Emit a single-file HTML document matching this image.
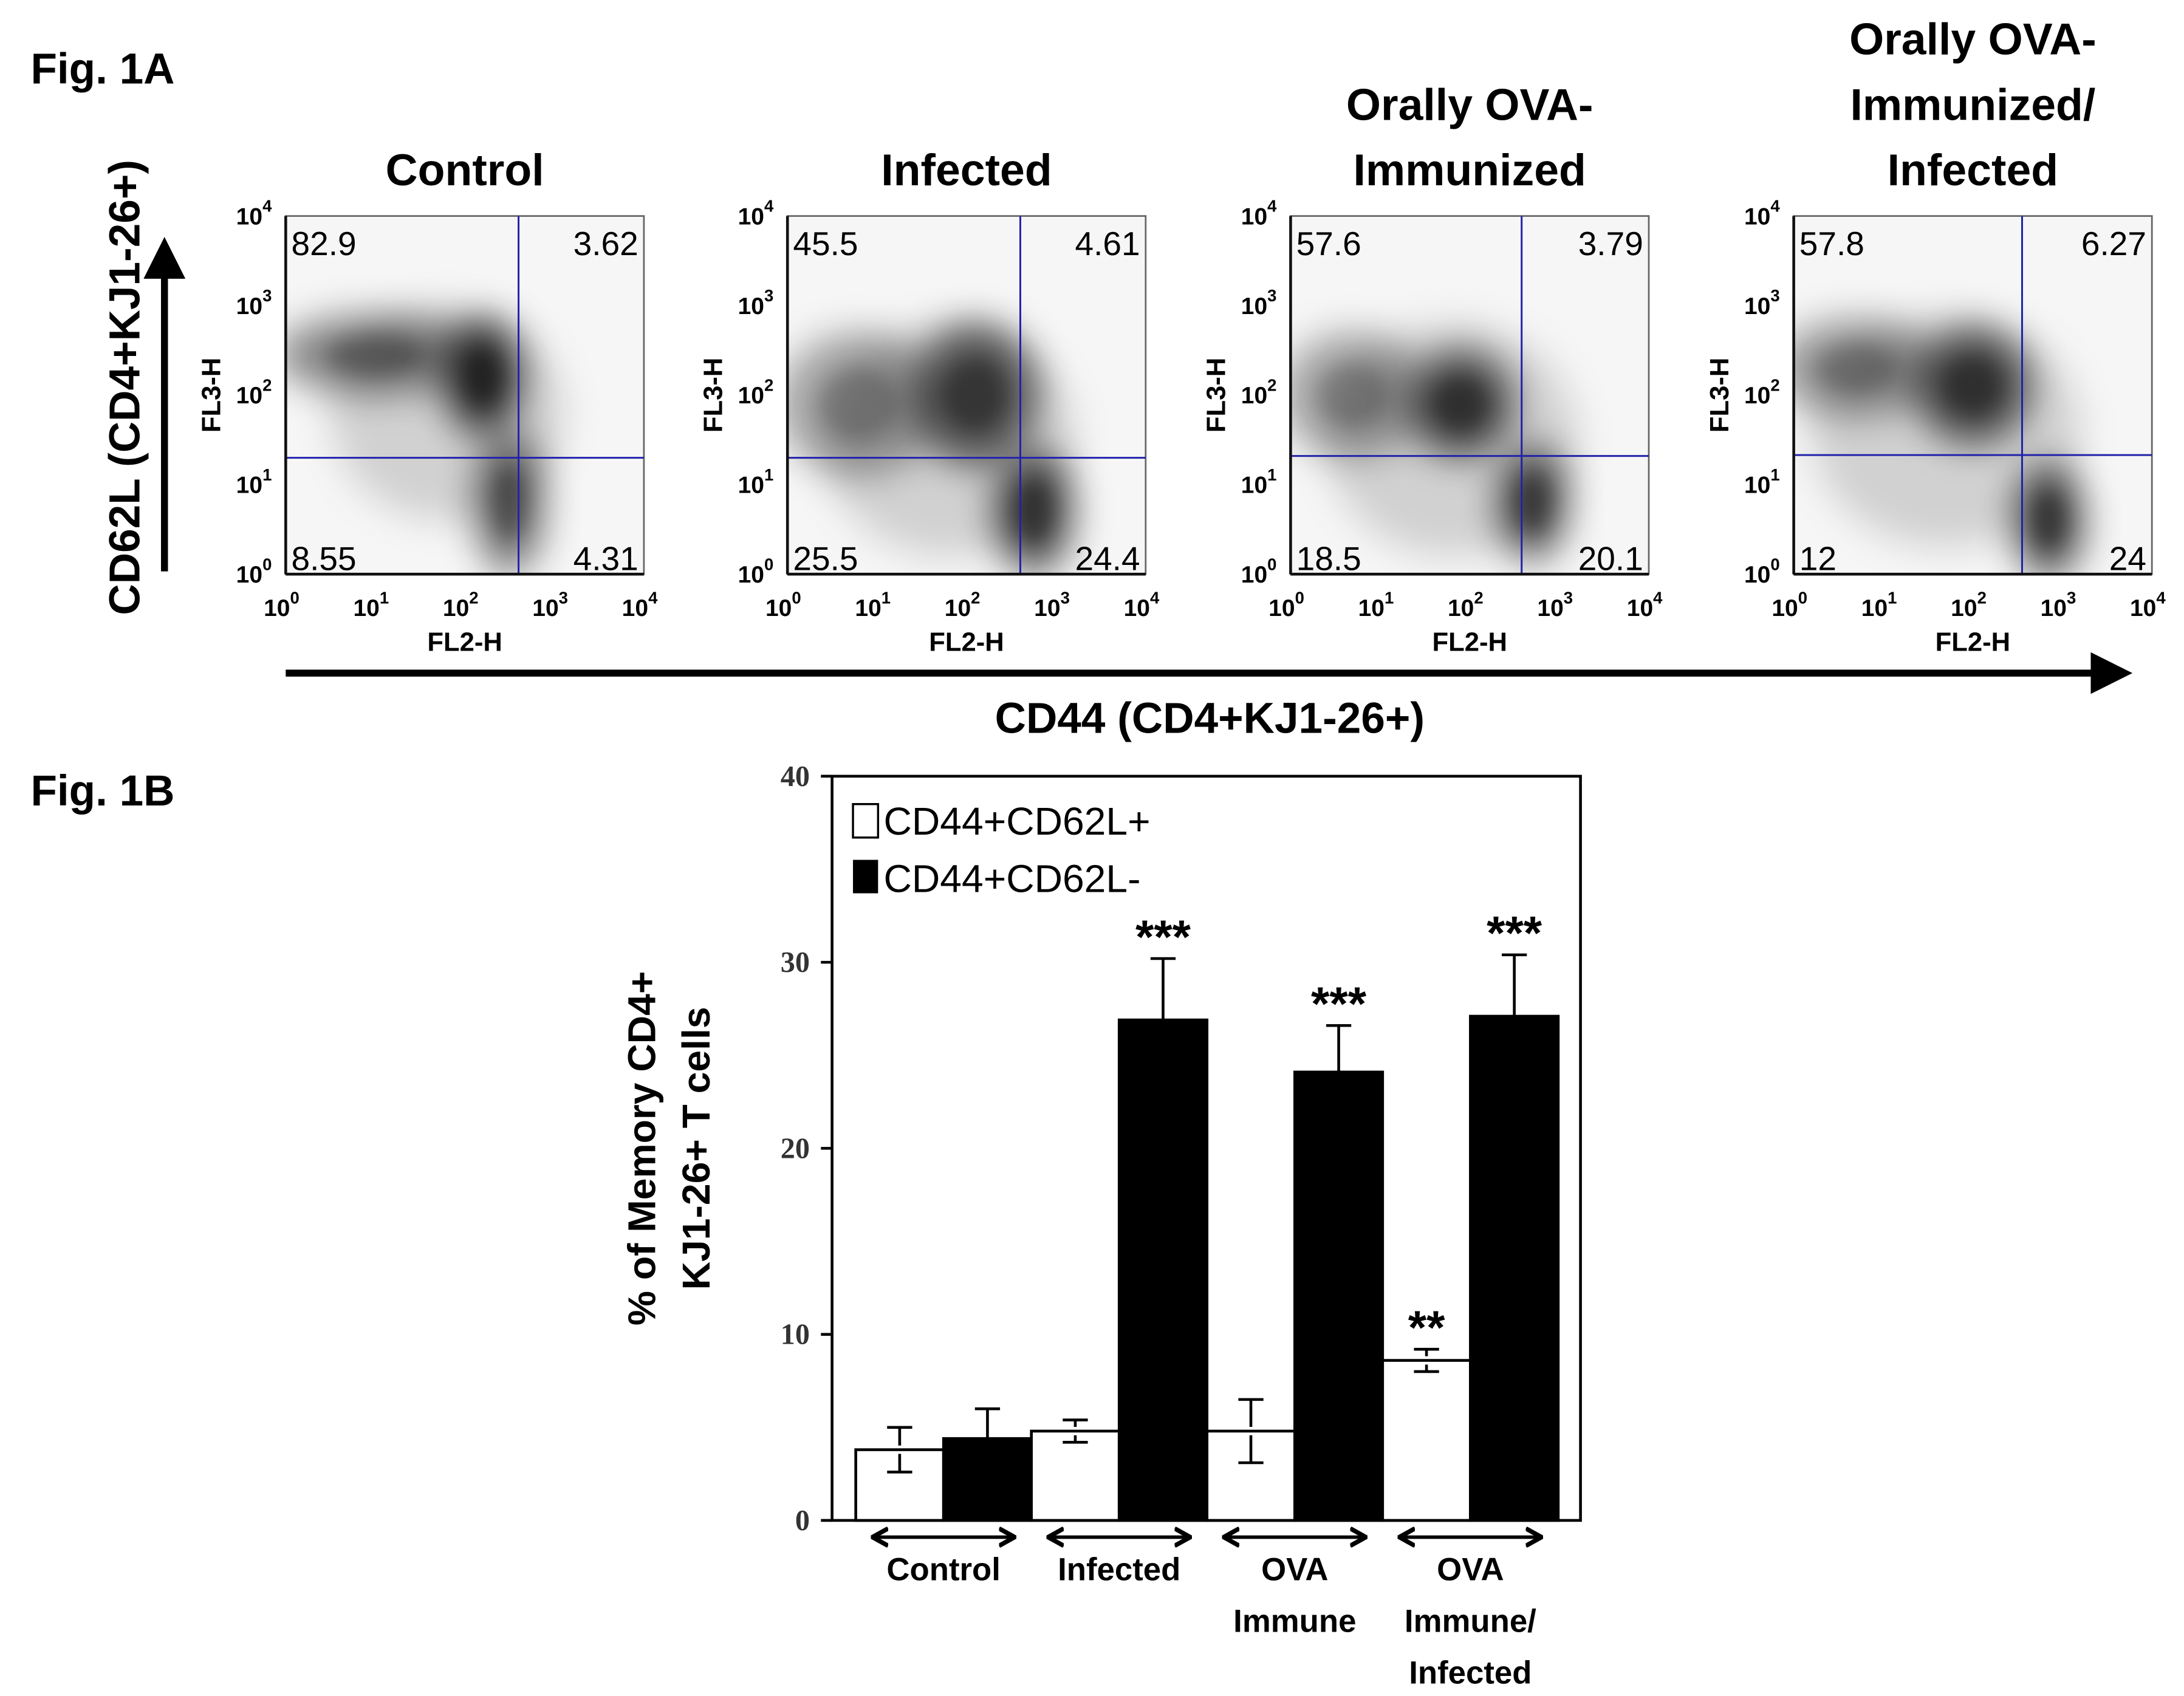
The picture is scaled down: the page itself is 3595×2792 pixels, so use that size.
<!DOCTYPE html>
<html><head><meta charset="utf-8"><style>
html,body{margin:0;padding:0;background:#fff;}
svg{display:block;}
text{font-family:"Liberation Sans",sans-serif;}
.b{font-weight:bold;}
.serif{font-family:"Liberation Serif",serif;}
</style></head><body>
<svg id="fig" width="3595" height="2792" viewBox="0 0 1567 1217" xmlns="http://www.w3.org/2000/svg">
<defs>
<filter id="blur" x="-50%" y="-50%" width="200%" height="200%"><feGaussianBlur stdDeviation="13"/></filter>
<filter id="blur2" x="-50%" y="-50%" width="200%" height="200%"><feGaussianBlur stdDeviation="7"/></filter>
<marker id="ah" markerWidth="6" markerHeight="6" refX="3" refY="3" orient="auto-start-reverse" markerUnits="strokeWidth"><path d="M0,0 L6,3 L0,6 z" fill="#000"/></marker>
<marker id="ah2" markerWidth="5" markerHeight="6" refX="4.5" refY="3" orient="auto-start-reverse" markerUnits="strokeWidth"><path d="M0,0.5 L4.5,3 L0,5.5" fill="none" stroke="#000" stroke-width="1.3"/></marker>
</defs>
<text x="22" y="60" class="b" font-size="31">Fig. 1A</text>
<text x="22" y="578" class="b" font-size="31">Fig. 1B</text>
<text transform="translate(100,278) rotate(-90)" text-anchor="middle" class="b" font-size="31">CD62L (CD4+KJ1-26+)</text>
<line x1="118" y1="410" x2="118" y2="185" stroke="#000" stroke-width="5" marker-end="url(#ah)"/>
<line x1="205" y1="483" x2="1515" y2="483" stroke="#000" stroke-width="5" marker-end="url(#ah)"/>
<text x="868" y="526" text-anchor="middle" class="b" font-size="31">CD44 (CD4+KJ1-26+)</text>
<g id="panels"></g>
<g id="bars"></g>
</svg>
<script>
// ---- Flow panels ----
const panelTitles = [["Control"],["Infected"],["Orally OVA-","Immunized"],["Orally OVA-","Immunized/","Infected"]];
const quadUL = ["82.9","45.5","57.6","57.8"];
const quadUR = ["3.62","4.61","3.79","6.27"];
const quadLL = ["8.55","25.5","18.5","12"];
const quadLR = ["4.31","24.4","20.1","24"];
const gateX = [2.6,2.6,2.58,2.55];   // log10 of vertical gate
const gateY = [1.3,1.3,1.32,1.33];   // log10 of horizontal gate
// populations: [logX, logY, rxDecades, ryDecades, darkness]
const pops = [
 [[2.2,2.2,0.45,0.65,0.95],[1.0,2.45,1.1,0.45,0.6],[2.5,0.8,0.4,0.8,0.7],[1.8,1.8,1.3,1.2,0.2]],
 [[2.1,2.0,0.7,0.8,0.8],[0.8,1.9,0.9,0.8,0.45],[2.75,0.7,0.45,0.7,0.85],[1.8,1.5,1.4,1.3,0.2]],
 [[1.9,1.9,0.6,0.6,0.85],[0.7,2.0,0.8,0.7,0.45],[2.7,0.8,0.4,0.65,0.8],[1.8,1.5,1.4,1.3,0.2]],
 [[2.0,2.1,0.65,0.65,0.85],[0.7,2.3,0.9,0.55,0.5],[2.85,0.6,0.4,0.65,0.85],[1.7,1.6,1.5,1.3,0.2]]
];
const panelX0 = [205,565,926,1287];
const PW = 257, PT = 155, PH = 257;
const NS = "http://www.w3.org/2000/svg";
function mk(tag, attrs, parent){const e=document.createElementNS(NS,tag);for(const k in attrs)e.setAttribute(k,attrs[k]);parent.appendChild(e);return e;}
const panels = document.getElementById('panels');
panelX0.forEach((x0,i)=>{
  const g = mk('g',{},panels);
  
  
  const sx = v => x0 + v/4*PW, sy = v => PT + PH - v/4*PH;
  mk('rect',{x:x0,y:PT,width:PW,height:PH,fill:'#f6f6f6',stroke:'#666','stroke-width':1.2},g);
  const clip = mk('clipPath',{id:'c'+i},g); mk('rect',{x:x0,y:PT,width:PW,height:PH},clip);
  const cg = mk('g',{'clip-path':'url(#c'+i+')'},g);
  pops[i].forEach(p=>{
    const e = mk('ellipse',{cx:sx(p[0]),cy:sy(p[1]),rx:p[2]/4*PW,ry:p[3]/4*PH,fill:'#000','fill-opacity':p[4]*0.75,filter:'url(#blur)'},cg);
    
    
  });
  pops[i].slice(0,3).forEach(p=>{
    mk('ellipse',{cx:sx(p[0]),cy:sy(p[1]),rx:p[2]/4*PW*0.5,ry:p[3]/4*PH*0.5,fill:'#000','fill-opacity':p[4]*0.45,filter:'url(#blur2)'},cg);
  });
  const vl = mk('line',{x1:sx(gateX[i]),x2:sx(gateX[i]),y1:PT,y2:PT+PH,stroke:'#2222aa','stroke-width':1.3},g);
  
  
  const hl = mk('line',{x1:x0,x2:x0+PW,y1:sy(gateY[i]),y2:sy(gateY[i]),stroke:'#2222aa','stroke-width':1.3},g);
  
  
  mk('line',{x1:x0,x2:x0,y1:PT,y2:PT+PH,stroke:'#111','stroke-width':2},g);
  mk('line',{x1:x0,x2:x0+PW,y1:PT+PH,y2:PT+PH,stroke:'#111','stroke-width':2},g);
  const q=[[quadUL[i],x0+4,PT+28,'start','ul'],[quadUR[i],x0+PW-4,PT+28,'end','ur'],[quadLL[i],x0+4,PT+PH-3,'start','ll'],[quadLR[i],x0+PW-4,PT+PH-3,'end','lr']];
  q.forEach(a=>{const t=mk('text',{x:a[1],y:a[2],'text-anchor':a[3],'font-size':24},g);t.textContent=a[0];
    
    });
  for(let d=0;d<=4;d++){
    const tx=mk('text',{x:sx(d)-3,y:PT+PH+30,'text-anchor':'middle','font-size':17,class:'b'},g);
    tx.innerHTML='10<tspan dy="-9" font-size="12">'+d+'</tspan>';
    
    
    const ty=mk('text',{x:x0-10,y:sy(d)+6,'text-anchor':'end','font-size':17,class:'b'},g);
    ty.innerHTML='10<tspan dy="-9" font-size="12">'+d+'</tspan>';
    
    
  }
  const xl=mk('text',{x:x0+PW/2,y:PT+PH+55,'text-anchor':'middle','font-size':19,class:'b'},g);xl.textContent='FL2-H';
  
  
  const yl=mk('text',{transform:'translate('+(x0-47)+','+(PT+PH/2)+') rotate(-90)','text-anchor':'middle','font-size':19,class:'b'},g);yl.textContent='FL3-H';
  
  
  const lines=panelTitles[i];
  lines.forEach((s,k)=>{const t=mk('text',{x:x0+PW/2,y:133-(lines.length-1-k)*47,'text-anchor':'middle','font-size':32,class:'b'},g);t.textContent=s;
    
    });
});

// ---- Bar chart ----
const groups = ["Control","Infected","OVA Immune","OVA Immune/Infected"];
const groupLabels = [["Control"],["Infected"],["OVA","Immune"],["OVA","Immune/","Infected"]];
const posVals = [3.8,4.8,4.8,8.6];
const posErr = [1.2,0.6,1.7,0.6];
const negVals = [4.4,26.9,24.1,27.1];
const negErr = [1.6,3.3,2.5,3.3];
const posStars = ["","","","**"];
const negStars = ["","***","***","***"];
const yTicks = [0,10,20,30,40];
const AX={l:597,r:1134,t:557,b:1091}, yMax=40;
const y = v => AX.b - v/yMax*(AX.b-AX.t);
const groupW = 126, firstX = 614, barW = 63;
const gx = i => firstX + i*groupW;
const bars = document.getElementById('bars');
const frame = mk('rect',{x:AX.l,y:AX.t,width:AX.r-AX.l,height:AX.b-AX.t,fill:'none',stroke:'#000','stroke-width':2},bars);


yTicks.forEach(v=>{
  mk('line',{x1:AX.l-8,x2:AX.l,y1:y(v),y2:y(v),stroke:'#000','stroke-width':2},bars);
  const t=mk('text',{x:AX.l-16,y:y(v)+7,'text-anchor':'end','font-size':21,class:'b serif',fill:'#333'},bars);t.textContent=v;
  
  
});
function errBar(cx,v,e,color){
  mk('line',{x1:cx,x2:cx,y1:y(v-e),y2:y(v+e),stroke:color,'stroke-width':2},bars);
  mk('line',{x1:cx-9,x2:cx+9,y1:y(v+e),y2:y(v+e),stroke:color,'stroke-width':2},bars);
  mk('line',{x1:cx-9,x2:cx+9,y1:y(v-e),y2:y(v-e),stroke:color,'stroke-width':2},bars);
}
groups.forEach((g,i)=>{
  const x1=gx(i), x2=gx(i)+barW;
  const bp=mk('rect',{x:x1,y:y(posVals[i]),width:barW,height:y(0)-y(posVals[i]),fill:'#fff',stroke:'#000','stroke-width':2},bars);
  
  
  const bn=mk('rect',{x:x2,y:y(negVals[i]),width:barW,height:y(0)-y(negVals[i]),fill:'#000',stroke:'#000','stroke-width':2},bars);
  
  
  const c=x1+barW/2;
  mk('line',{x1:c,x2:c,y1:y(posVals[i])-3,y2:y(posVals[i]+posErr[i]),stroke:'#000','stroke-width':2},bars);
  mk('line',{x1:c-9,x2:c+9,y1:y(posVals[i]+posErr[i]),y2:y(posVals[i]+posErr[i]),stroke:'#000','stroke-width':2},bars);
  mk('line',{x1:c,x2:c,y1:y(posVals[i])+3,y2:y(posVals[i]-posErr[i]),stroke:'#000','stroke-width':2},bars);
  mk('line',{x1:c-9,x2:c+9,y1:y(posVals[i]-posErr[i]),y2:y(posVals[i]-posErr[i]),stroke:'#000','stroke-width':2},bars);
  errBar(x2+barW/2,negVals[i],negErr[i],'#000');
  if(posStars[i]){const t=mk('text',{x:x1+barW/2,y:y(posVals[i]+posErr[i])-4,'text-anchor':'middle','font-size':34,class:'b'},bars);t.textContent=posStars[i];
    
    }
  if(negStars[i]){const t=mk('text',{x:x2+barW/2,y:y(negVals[i]+negErr[i])-4,'text-anchor':'middle','font-size':34,class:'b'},bars);t.textContent=negStars[i];
    
    }
  const ar=mk('line',{x1:x1+12,x2:x1+2*barW-12,y1:1103,y2:1103,stroke:'#000','stroke-width':2.5,'marker-start':'url(#ah2)','marker-end':'url(#ah2)'},bars);
  
  
  groupLabels[i].forEach((s,k)=>{const t=mk('text',{x:x1+barW,y:1134+k*37,'text-anchor':'middle','font-size':23,class:'b'},bars);t.textContent=s;
    
    });
});
const lg=mk('g',{},bars);


mk('rect',{x:608,y:568,width:290,height:82,fill:'#fff'},lg);
const le1=mk('rect',{x:612,y:577,width:18,height:24,fill:'#fff',stroke:'#000','stroke-width':1.5},lg);


const lt1=mk('text',{x:634,y:599,'font-size':28},lg);lt1.textContent='CD44+CD62L+';


const le2=mk('rect',{x:612,y:617,width:18,height:24,fill:'#000'},lg);


const lt2=mk('text',{x:634,y:640,'font-size':28},lg);lt2.textContent='CD44+CD62L-';


const yt1=mk('text',{transform:'translate(470,824) rotate(-90)','text-anchor':'middle','font-size':28,class:'b'},bars);yt1.textContent='% of Memory CD4+';


const yt2=mk('text',{transform:'translate(509,824) rotate(-90)','text-anchor':'middle','font-size':28,class:'b'},bars);yt2.textContent='KJ1-26+ T cells';


</script>
</body></html>
